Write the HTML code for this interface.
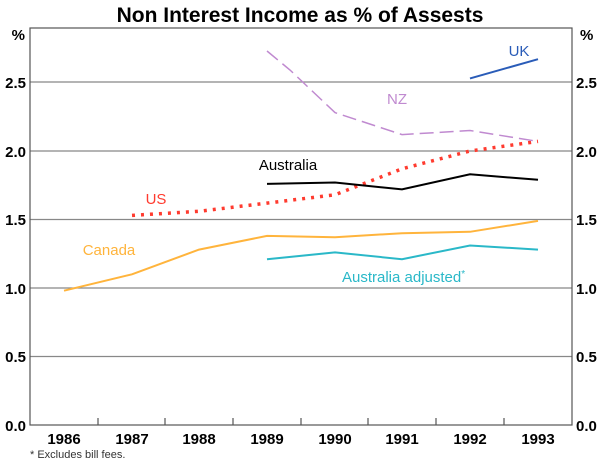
<!DOCTYPE html>
<html><head><style>body{margin:0;background:#fff}svg{display:block}text{font-family:"Liberation Sans",Arial,sans-serif}</style></head><body>
<svg width="600" height="461" viewBox="0 0 600 461" xmlns="http://www.w3.org/2000/svg">
<text x="300" y="22" font-size="21" font-weight="bold" text-anchor="middle">Non Interest Income as % of Assests</text>
<g stroke="#888" stroke-width="1.2">
<line x1="30" y1="82" x2="572" y2="82"/><line x1="30" y1="151" x2="572" y2="151"/><line x1="30" y1="219.5" x2="572" y2="219.5"/><line x1="30" y1="288" x2="572" y2="288"/><line x1="30" y1="356.5" x2="572" y2="356.5"/>
</g>
<rect x="30" y="28" width="542" height="397" fill="none" stroke="#555" stroke-width="1.2"/>
<g stroke="#555" stroke-width="1.2">
<line x1="98" y1="425" x2="98" y2="418"/><line x1="165" y1="425" x2="165" y2="418"/><line x1="233" y1="425" x2="233" y2="418"/><line x1="301" y1="425" x2="301" y2="418"/><line x1="368" y1="425" x2="368" y2="418"/><line x1="436" y1="425" x2="436" y2="418"/><line x1="504" y1="425" x2="504" y2="418"/>
</g>
<g font-size="15" font-weight="bold" text-anchor="end">
<text x="25" y="40">%</text><text x="26" y="88">2.5</text><text x="26" y="157">2.0</text><text x="26" y="225">1.5</text><text x="26" y="294">1.0</text><text x="26" y="362">0.5</text><text x="26" y="431">0.0</text>
</g>
<g font-size="15" font-weight="bold" text-anchor="start">
<text x="580" y="40">%</text><text x="576" y="88">2.5</text><text x="576" y="157">2.0</text><text x="576" y="225">1.5</text><text x="576" y="294">1.0</text><text x="576" y="362">0.5</text><text x="576" y="431">0.0</text>
</g>
<g font-size="15" font-weight="bold" text-anchor="middle">
<text x="64" y="444">1986</text><text x="132" y="444">1987</text><text x="199" y="444">1988</text><text x="267" y="444">1989</text><text x="335" y="444">1990</text><text x="402" y="444">1991</text><text x="470" y="444">1992</text><text x="538" y="444">1993</text>
</g>
<text x="30" y="458" font-size="11" fill="#333">* Excludes bill fees.</text>
<g fill="none" stroke-width="2">
<polyline stroke="#ffb43c" points="64,290.7 132,274.3 199,249.6 267,235.9 335,237.3 402,233.2 470,231.8 538,220.9"/>
<polyline stroke="#ff3b2f" stroke-width="3.5" stroke-dasharray="3,6" points="132,215.4 199,211.3 267,203.1 335,194.8 402,168.8 470,151 538,141.4"/>
<polyline stroke="#000" points="267,183.9 335,182.5 402,189.4 470,174.3 538,179.8"/>
<polyline stroke="#2ab8c8" points="267,259.2 335,252.4 402,259.2 470,245.5 538,249.6"/>
<polyline stroke="#c08ad0" stroke-width="1.5" stroke-dasharray="14,6" points="267,51 290,70 335,112.6 402,134.6 470,130.5 538,141.4"/>
<polyline stroke="#2a5cb8" points="470,78.4 538,59.2"/>
</g>
<text x="519" y="56" font-size="15" fill="#2a5cb8" text-anchor="middle">UK</text>
<text x="397" y="104" font-size="15" fill="#c08ad0" text-anchor="middle">NZ</text>
<text x="288" y="170" font-size="15" fill="#000" text-anchor="middle">Australia</text>
<text x="156" y="204" font-size="15" fill="#ff3b2f" text-anchor="middle">US</text>
<text x="109" y="255" font-size="15" fill="#ffb43c" text-anchor="middle">Canada</text>
<text x="342" y="282" font-size="15" fill="#2ab8c8">Australia adjusted<tspan font-size="10" dy="-5">*</tspan></text>
</svg>
</body></html>
